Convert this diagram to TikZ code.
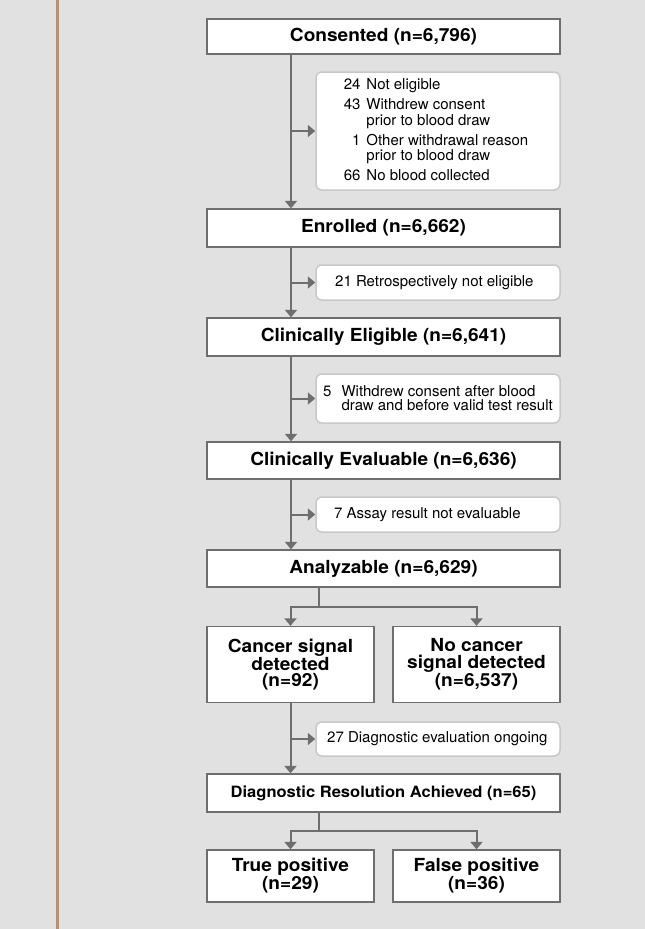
\documentclass[tikz,border=0pt]{standalone}
\usepackage{fontspec}
\setmainfont{TeX Gyre Heros}[BoldFeatures={FakeStretch=1.06}]
\usetikzlibrary{arrows.meta}
\definecolor{bg}{HTML}{E1E1E1}
\definecolor{ln}{HTML}{6E6E6E}
\definecolor{exb}{HTML}{C8C8C8}
\definecolor{tanline}{HTML}{C0906C}
\begin{document}
\begin{tikzpicture}[x=1pt,y=-1pt,
  mainbox/.style={draw=ln, line width=1.3pt, fill=white, minimum width=353pt, minimum height=37pt, inner sep=0pt, font=\fontsize{18}{16.5}\selectfont\bfseries, align=center},
  childbox/.style={mainbox, minimum width=167pt},
  exbox/.style={draw=exb, line width=1.5pt, fill=white, rounded corners=6pt, minimum width=244pt, inner sep=0pt},
  extext/.style={font=\fontsize{15}{15}\selectfont, inner sep=0pt, align=left},
  flow/.style={draw=ln, line width=2pt, -{Triangle[width=12pt,length=7.5pt]}},
  plainline/.style={draw=ln, line width=2pt}]
\fill[bg] (0,0) rectangle (645,929);
\useasboundingbox (0,0) rectangle (645,929);
\draw[tanline, line width=3pt] (57.2,0) -- (57.2,929);
\coordinate (tx) at (291,0);
% main boxes
\node[mainbox, minimum height=35pt] (consented) at (383.5,36.5) {Consented (n=6,796)};
\node[mainbox, minimum height=38pt] (enrolled) at (383.5,228) {Enrolled (n=6,662)};
\node[mainbox, minimum height=38pt] (elig) at (383.5,337) {Clinically Eligible (n=6,641)};
\node[mainbox] (evalb) at (383.5,460.5) {Clinically Evaluable (n=6,636)};
\node[mainbox] (analyz) at (383.5,568.5) {Analyzable (n=6,629)};
\node[childbox, minimum height=76pt] (cancer) at (290.5,664.5) {Cancer signal\\detected\\(n=92)};
\node[childbox, minimum height=76pt] (nocancer) at (476.5,664.5) {No cancer\\signal detected\\(n=6,537)};
\node[mainbox, minimum height=38pt, font=\fontsize{15.6}{16}\selectfont\bfseries] (diag) at (383.5,793) {Diagnostic Resolution Achieved (n=65)};
\node[childbox, minimum height=52pt] (truep) at (290.5,876) {True positive\\(n=29)};
\node[childbox, minimum height=52pt] (falsep) at (476.5,876) {False positive\\(n=36)};
% exclusion boxes
\node[exbox, minimum height=118pt] (ex1) at (438,131) {};
\node[extext] (ex1t) at (436,132) {\begin{tabular}{@{}r@{\hspace{6pt}}l@{}}24 & Not eligible\\[4.5pt]
43 & Withdrew consent\\ & prior to blood draw\\[4.5pt]
1 & Other withdrawal reason\\ & prior to blood draw\\[4.5pt]
66 & No blood collected\end{tabular}};
\node[exbox, minimum height=35pt] (ex2) at (438,282.5) {};
\node[extext, anchor=west] (ex2t) at (335,282.5) {21 Retrospectively not eligible};
\node[exbox, minimum height=49pt] (ex3) at (438,398.5) {};
\node[extext, anchor=west] (ex3t) at (323,400) {\begin{tabular}{@{}r@{\hspace{10pt}}l@{}}5 & Withdrew consent after blood\\[-1pt] & draw and before valid test result\end{tabular}};
\node[exbox, minimum height=35pt] (ex4) at (438,514.5) {};
\node[extext, anchor=west] (ex4t) at (334,514.5) {7 Assay result not evaluable};
\node[exbox, minimum height=34pt] (ex5) at (438,739) {};
\node[extext, anchor=west] (ex5t) at (327,739) {27 Diagnostic evaluation ongoing};
% trunk connectors
\draw[flow] (consented.south -| tx) -- (enrolled.north -| tx);
\draw[flow] (ex1.west -| tx) -- (ex1.west);
\draw[flow] (enrolled.south -| tx) -- (elig.north -| tx);
\draw[flow] (ex2.west -| tx) -- (ex2.west);
\draw[flow] (elig.south -| tx) -- (evalb.north -| tx);
\draw[flow] (ex3.west -| tx) -- (ex3.west);
\draw[flow] (evalb.south -| tx) -- (analyz.north -| tx);
\draw[flow] (ex4.west -| tx) -- (ex4.west);
\draw[flow] (cancer.south) -- (diag.north -| cancer);
\draw[flow] (ex5.west -| tx) -- (ex5.west);
% branches
\coordinate (b1) at (319,607);
\draw[plainline] (analyz.south -| b1) -- (b1);
\draw[flow] (b1) -| (cancer.north);
\draw[flow] (b1) -| (nocancer.north);
\coordinate (b2) at (319,831);
\draw[plainline] (diag.south -| b2) -- (b2);
\draw[flow] (b2) -| (truep.north);
\draw[flow] (b2) -| (falsep.north);
\end{tikzpicture}
\end{document}
